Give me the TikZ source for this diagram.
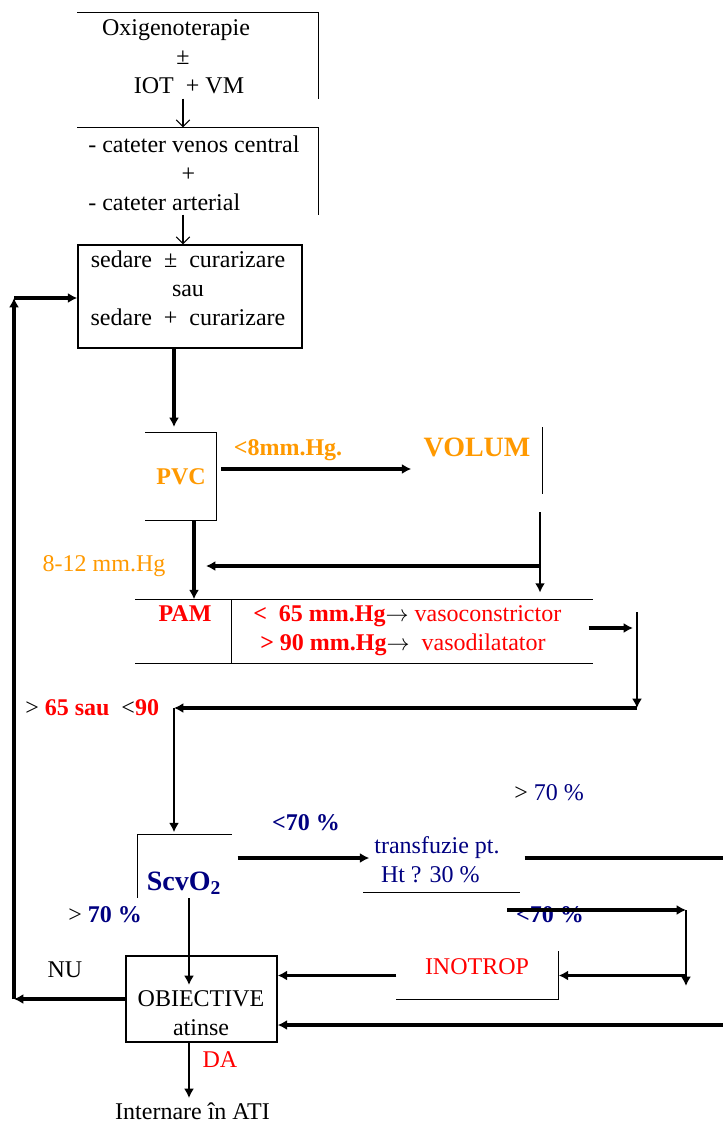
\documentclass[tikz,border=0pt]{standalone}
\usepackage{fontspec}
\setmainfont{Liberation Serif}
\usetikzlibrary{arrows.meta}
\definecolor{orng}{RGB}{255,153,0}
\definecolor{nvy}{RGB}{0,0,128}
\definecolor{rd}{RGB}{255,0,0}

\begin{document}
\begin{tikzpicture}[x=0.75pt,y=-0.75pt,>={Latex[length=7pt,width=7.5pt]},
    txt/.style={inner sep=0pt,font=\fontsize{18}{21.6}\selectfont},
    bld/.style={inner sep=0pt,font=\fontsize{18}{21.6}\selectfont\bfseries},
    big/.style={inner sep=0pt,font=\fontsize{21}{25}\selectfont\bfseries},
    cbox/.style={inner sep=0pt,line width=1.1pt},
    bline/.style={line width=1.1pt},
    thk/.style={line width=2.4pt},
    mid/.style={line width=1.4pt},
    glyph/.style={line width=0.8pt,-{Straight Barb[length=5pt,width=10pt]}}]
    \useasboundingbox (0,0) rectangle (723,1124);

    \node[cbox,minimum width=180pt,minimum height=63.75pt] (b1) at (198,55.5) {};
    \node[cbox,minimum width=180pt,minimum height=64.5pt] (b2) at (198,171) {};
    \node[cbox,draw,minimum width=168pt,minimum height=77.25pt] (b3) at (190,296.5) {};
    \node[cbox,bld,text=orng,minimum width=52.5pt,minimum height=65.25pt] (pvc) at (181,476.5) {PVC};
    \node[cbox,minimum width=97.5pt,minimum height=48.75pt] (vol) at (477,460.5) {};
    \node[cbox,minimum width=71.25pt,minimum height=47.25pt] (paml) at (183.5,631.5) {};
    \node[cbox,minimum width=270.75pt,minimum height=47.25pt] (pamv) at (411.5,631.5) {};
    \node[cbox,minimum width=69.75pt,minimum height=46.5pt] (scv) at (184.5,866) {};
    \node[cbox,minimum width=116.25pt,minimum height=42.75pt] (trf) at (441.5,863.5) {};
    \node[cbox,minimum width=120.75pt,minimum height=35.25pt] (ino) at (477.5,975.5) {};
    \node[cbox,draw,minimum width=113.25pt,minimum height=64.5pt] (obj) at (201.5,999) {};

    \draw[bline] (b1.north west) -- (b1.north east) -- (b1.south east);
    \draw[bline] (b2.north west) -- (b2.north east) -- (b2.south east);
    \draw[bline] (pvc.north west) -- (pvc.north east) -- (pvc.south east) -- (pvc.south west);
    \draw[bline] (vol.north east) -- (vol.south east);
    \draw[bline] (paml.north west) -- (pamv.north east);
    \draw[bline] (paml.south west) -- (pamv.south east);
    \draw[bline] (paml.north east) -- (paml.south east);
    \draw[bline] (scv.north east) -- (scv.north west) -- (scv.south west);
    \draw[bline] (trf.south west) -- (trf.south east);
    \draw[bline] (ino.north east) -- (ino.south east) -- (ino.south west);

    \node[txt,align=center] (oxit) at (183,57) {Oxigenoterapie\hspace*{10.5pt}\\ ±\hspace*{10.5pt}\\ \hspace*{9pt}IOT~ + VM};
    \node[txt,align=left,anchor=west] (catt) at (88,173) {- cateter venos central\\ \hspace*{70pt}+\\ - cateter arterial};
    \node[txt,align=center] (sedt) at (188,288) {sedare~~±~~curarizare\\ sau\\ sedare~~+~~curarizare};
    \node[bld,text=orng] (lt8) at (288,450) {<8mm.Hg.};
    \node[big,text=orng] (volt) at (477,447) {VOLUM};
    \node[txt,text=orng] (n812) at (104,566) {8-12 mm.Hg};
    \node[bld,text=rd] (pamt) at (185,614) {PAM};
    \node[txt,text=rd,anchor=west] (pam1) at (253,616) {\textbf{<~~65 mm.Hg}\textcolor{black}{$\rightarrow$} vasoconstrictor};
    \node[txt,text=rd,anchor=west] (pam2) at (260,645) {\textbf{> 90 mm.Hg}\textcolor{black}{$\rightarrow$}~~vasodilatator};
    \node[txt,anchor=west] (ok65) at (25,708) {> \textcolor{rd}{\textbf{65 sau}}~~<\textcolor{rd}{\textbf{90}}};
    \node[big,text=nvy] (scvt) at (184,883) {ScvO\textsubscript{2}};
    \node[bld,text=nvy] (lt70a) at (306,823) {<70 \%};
    \node[txt,anchor=west] (gt70a) at (514,793) {> \textcolor{nvy}{70 \%}};
    \node[txt,text=nvy,align=center] (trft) at (437,860) {transfuzie pt.\\ Ht ? 30 \%\hspace*{10pt}};
    \node[txt,anchor=west] (gt70b) at (68,915) {> \textcolor{nvy}{\textbf{70 \%}}};
    \node[bld,text=nvy] (lt70b) at (550,915) {<70 \%};
    \node[txt,text=rd] (inot) at (477,967) {INOTROP};
    \node[txt] (nu) at (65,970) {NU};
    \node[txt,align=center] (objt) at (201,1013) {OBIECTIVE\\ atinse};
    \node[txt,text=rd] (da) at (220,1060) {DA};
    \node[txt,anchor=base] (ati) at (192.5,1119) {Internare în ATI};

    \coordinate (nu1) at (14,999);
    \coordinate (nu2) at (14,298);
    \coordinate (pin) at (174,427);
    \coordinate (pv) at (221,469);
    \coordinate (vd) at (540,512);
    \coordinate (vm) at (540,566);
    \coordinate (pm) at (206,566);
    \coordinate (ra) at (637,612);
    \coordinate (rb) at (637,708);
    \coordinate (sin) at (174,708);
    \coordinate (e1) at (733,858);
    \coordinate (e2) at (730,1025);
    \coordinate (ia) at (507,910);
    \coordinate (ib) at (686,910);
    \coordinate (ic) at (686,986);
    \coordinate (sd) at (189,898);

    \draw[glyph] (b1.south -| oxit) -- (b2.north -| oxit);
    \draw[glyph] (b2.south -| oxit) -- (b3.north -| oxit);
    \draw[thk,->] (obj.west) -- (nu1);
    \draw[thk,->] (nu1) -- (nu2);
    \draw[thk,->] (nu2) -- (nu2 -| b3.west);
    \draw[thk,->] (b3.south -| pin) -- (pin);
    \draw[thk,->] (pv) -- (pv -| vol.west);
    \draw[thk,->] ([xshift=9.75pt]pvc.south) -- ([xshift=9.75pt]pvc.south |- paml.north);
    \draw[mid,->,shorten >=5pt] (vd) -- (vd |- pamv.north);
    \draw[thk,->] (vm) -- (pm);
    \draw[thk,->] ([shift={(-4,-3.5)}]pamv.east) -- ([shift={(-4,-3.5)}]pamv.east -| ra);
    \draw[mid,->] (ra) -- (rb);
    \draw[thk,->] (rb) -- (sin);
    \draw[mid,->,shorten >=1.5pt] (sin) -- (sin |- scv.north);
    \draw[thk,->] ([shift={(6,-8)}]scv.east) -- ([shift={(6,-8)}]scv.east -| trf.west);
    \draw[thk,->] ([shift={(5,-5.5)}]trf.east) -- (e1);
    \draw[thk,->] (e2) -- (e2 -| obj.east);
    \draw[thk,->] (ia) -- (ib);
    \draw[mid,->] (ib) -- (ic);
    \draw[thk,->] (ib |- ino.east) -- (ino.east);
    \draw[thk,->] (ino.west) -- (ino.west -| obj.east);
    \draw[mid,->,shorten >=10.5pt] (sd) -- (sd |- obj.center);
    \draw[mid,->,shorten >=3pt] (sd |- obj.south) -- (sd |- ati.north);
\end{tikzpicture}
\end{document}
